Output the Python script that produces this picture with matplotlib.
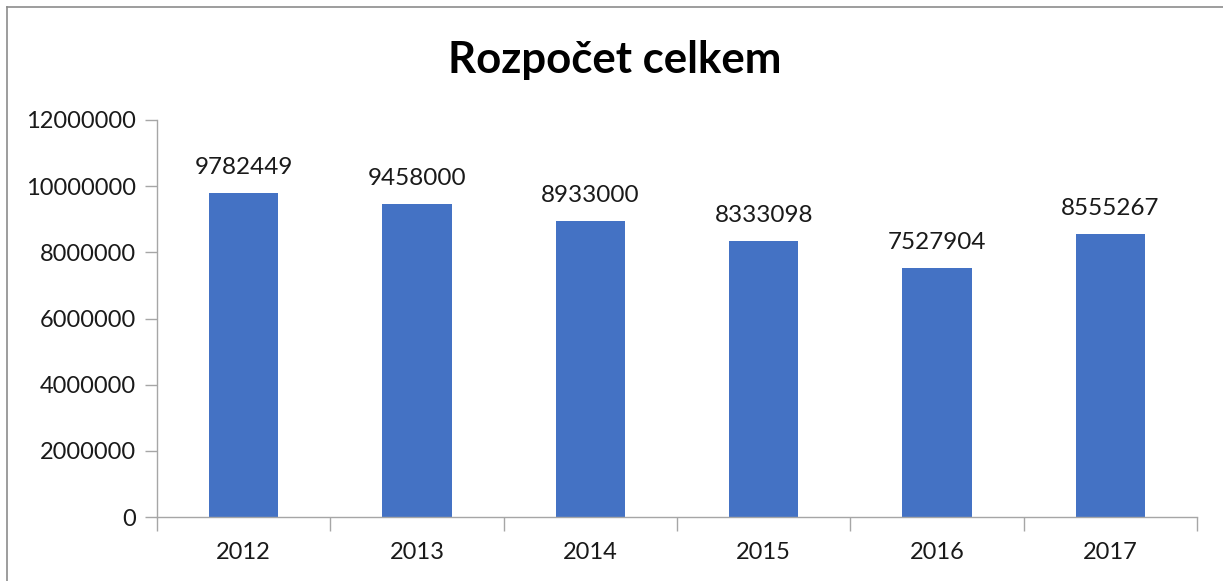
import matplotlib
matplotlib.use("Agg")
import matplotlib.pyplot as plt
from matplotlib.lines import Line2D

years = ["2012", "2013", "2014", "2015", "2016", "2017"]
values = [9782449, 9458000, 8933000, 8333098, 7527904, 8555267]
yticks = [0, 2000000, 4000000, 6000000, 8000000, 10000000, 12000000]
title = "Rozpočet celkem"

plt.rcParams['font.family'] = ['Lato', 'DejaVu Sans']

fig = plt.figure(figsize=(12.23, 5.81), dpi=100)
ax = fig.add_axes([157/1223, 1 - 517/581, (1197 - 157)/1223, (517 - 120)/581])

x = list(range(len(years)))
bars = ax.bar(x, values, width=0.4, color="#4472C4", zorder=2)

ax.set_xlim(-0.5, len(years) - 0.5)
ax.set_ylim(0, 12000000)
ax.set_yticks(yticks)
ax.set_yticklabels([str(v) for v in yticks], fontsize=17, color="#1a1a1a")
ax.set_xticks(x)
ax.set_xticklabels(years, fontsize=17, color="#1a1a1a")
ax.tick_params(axis='x', length=0, pad=18)
ax.tick_params(axis='y', length=9, width=1, color="#A6A6A6", pad=6)

# category boundary ticks on x axis
ax.set_xticks([i - 0.5 for i in range(len(years) + 1)], minor=True)
ax.tick_params(axis='x', which='minor', length=10, width=1, color="#A6A6A6")

for s in ['top', 'right']:
    ax.spines[s].set_visible(False)
for s in ['left', 'bottom']:
    ax.spines[s].set_color("#A6A6A6")
    ax.spines[s].set_linewidth(1)

for xi, v in zip(x, values):
    ax.annotate(str(v), (xi, v), xytext=(0, 11), textcoords='offset points',
                ha='center', va='bottom', fontsize=17.5, color="#1a1a1a")

fig.text(615/1223, 1 - 60/581, title, ha='center', va='center',
         fontsize=31.5, fontweight='bold', color="black")

# chart border (top and left visible)
fig.add_artist(Line2D([7/1223, 1], [1 - 7/581, 1 - 7/581], transform=fig.transFigure,
                      color="#8C8C8C", linewidth=1.2))
fig.add_artist(Line2D([7/1223, 7/1223], [0, 1 - 7/581], transform=fig.transFigure,
                      color="#8C8C8C", linewidth=1.2))

fig.savefig("out.png", dpi=100)
